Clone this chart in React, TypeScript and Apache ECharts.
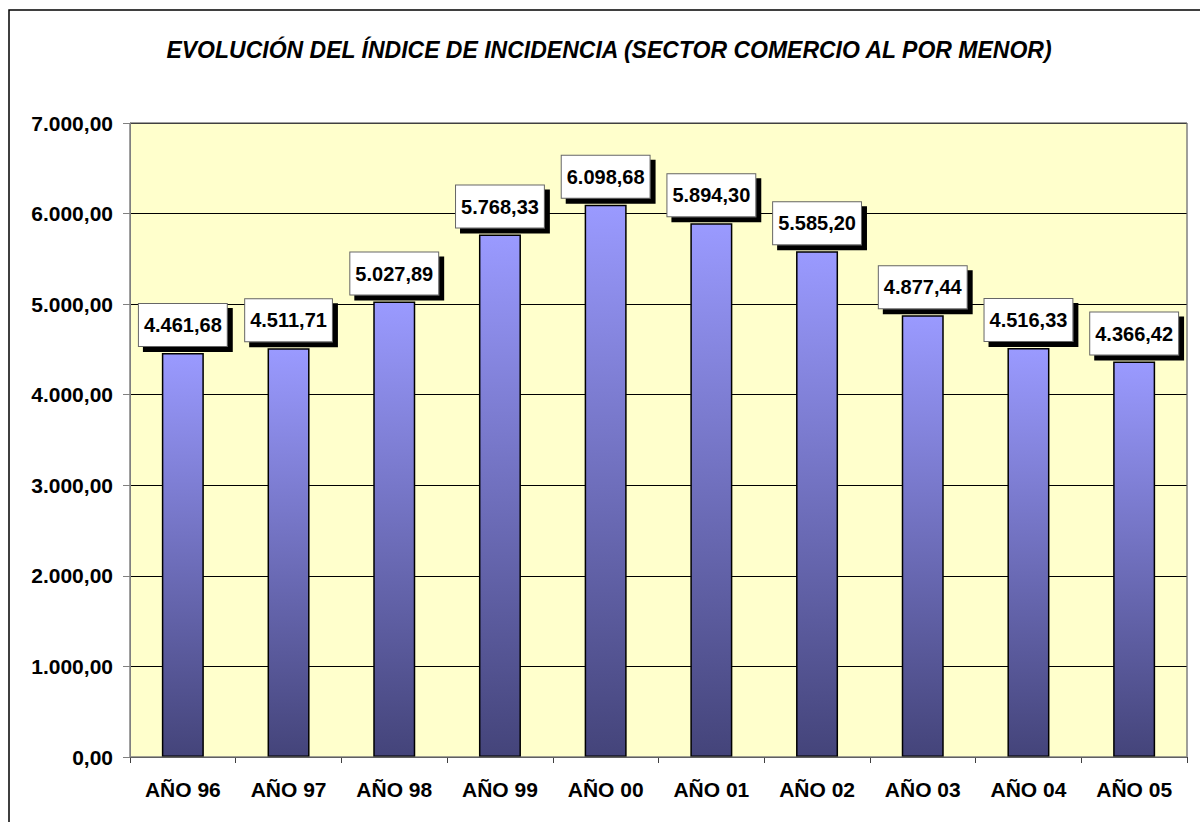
import React, { useEffect, useRef } from "react";
import * as echarts from "echarts";

const categories = ["AÑO 96", "AÑO 97", "AÑO 98", "AÑO 99", "AÑO 00", "AÑO 01", "AÑO 02", "AÑO 03", "AÑO 04", "AÑO 05"];
const values = [4461.68, 4511.71, 5027.89, 5768.33, 6098.68, 5894.3, 5585.2, 4877.44, 4516.33, 4366.42];
const yTicks = { min: 0, max: 7000, interval: 1000 };
const titleText = "EVOLUCIÓN DEL ÍNDICE DE INCIDENCIA (SECTOR COMERCIO AL POR MENOR)";

function fmt(v: number): string {
  const fixed = v.toFixed(2);
  const [intPart, dec] = fixed.split(".");
  const withDots = intPart.replace(/\B(?=(\d{3})+(?!\d))/g, ".");
  return withDots + "," + dec;
}

const FONT = "'Liberation Sans', Arial, sans-serif";

export default function App() {
  const ref = useRef<HTMLDivElement>(null);
  useEffect(() => {
    if (!ref.current) return;
    const chart = echarts.init(ref.current, undefined, { renderer: "svg" });
    const gLeft = 130, gTop = 123, gRight = 13, gBottom = 65;
    chart.setOption({
      animation: false,
      backgroundColor: "#ffffff",
      title: {
        text: titleText,
        left: 604,
        top: 33,
        textAlign: "center",
        textStyle: { fontFamily: FONT, fontSize: 23, fontWeight: "bold", fontStyle: "italic", color: "#000" },
      },
      grid: {
        left: gLeft,
        top: gTop,
        right: gRight,
        bottom: gBottom,
        show: true,
        backgroundColor: "#FFFFCC",
        borderColor: "#808080",
        borderWidth: 1,
      },
      xAxis: {
        type: "category",
        data: categories,
        axisLine: { lineStyle: { color: "#404040", width: 1 } },
        axisTick: { show: true, length: 6, lineStyle: { color: "#404040" } },
        axisLabel: { fontFamily: FONT, fontSize: 21, fontWeight: "bold", color: "#000", margin: 22 },
      },
      yAxis: {
        type: "value",
        min: yTicks.min,
        max: yTicks.max,
        interval: yTicks.interval,
        axisLine: { show: true, lineStyle: { color: "#808080", width: 1 } },
        axisTick: { show: true, length: 7, lineStyle: { color: "#808080" } },
        axisLabel: {
          fontFamily: FONT,
          fontSize: 21,
          fontWeight: "bold",
          color: "#000",
          margin: 17,
          formatter: (v: number) => fmt(v),
        },
        splitLine: { show: true, lineStyle: { color: "#000", width: 1 } },
      },
      series: [
        {
          type: "bar",
          data: values,
          barWidth: 42,
          itemStyle: {
            color: new echarts.graphic.LinearGradient(0, 0, 0, 1, [
              { offset: 0, color: "#9A9AFF" },
              { offset: 1, color: "#44447A" },
            ]),
            borderColor: "#000",
            borderWidth: 1.5,
          },
          label: {
            show: true,
            position: "top",
            distance: 7,
            formatter: (p: any) => fmt(p.value),
            fontFamily: FONT,
            fontSize: 20,
            fontWeight: "bold",
            color: "#000",
            lineHeight: 22,
            backgroundColor: "#ffffff",
            borderColor: "#666666",
            borderWidth: 1,
            padding: [10, 5, 10, 5],
            shadowColor: "#000",
            shadowOffsetX: 5,
            shadowOffsetY: 5,
            shadowBlur: 0,
          },
        },
      ],
      graphic: [
        {
          type: "rect",
          z: 100,
          shape: { x: 9, y: 10, width: 1300, height: 900 },
          style: { fill: "none", stroke: "#000", lineWidth: 1.5 },
        },
        {
          type: "rect",
          z: 100,
          shape: { x: gLeft, y: gTop, width: 1200 - gLeft - gRight, height: 822 - gTop - gBottom },
          style: { fill: "none", stroke: "#808080", lineWidth: 1 },
        },
      ],
    });
    return () => chart.dispose();
  }, []);
  return (
    <div
      ref={ref}
      style={{ position: "fixed", left: 0, top: 0, width: 1200, height: 822 }}
    />
  );
}
